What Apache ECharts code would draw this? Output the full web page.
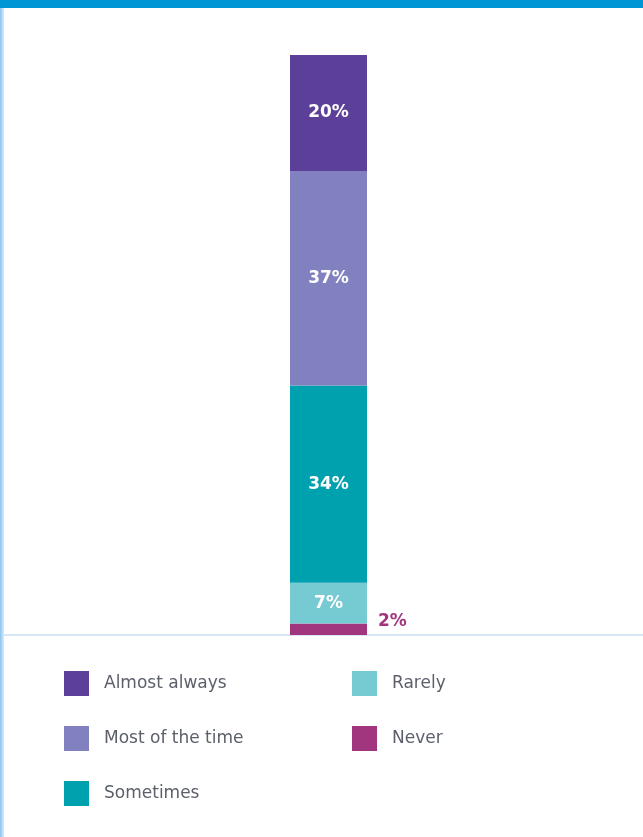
<!DOCTYPE html>
<html><head><meta charset="utf-8">
<script src="https://cdn.jsdelivr.net/npm/echarts@6/dist/echarts.min.js"></script>
<style>html,body{margin:0;padding:0;background:#fff}#c{width:643px;height:837px}</style>
</head><body><div id="c"></div>
<script>
const categories = ['All'];
const seriesNames = ['Never', 'Rarely', 'Sometimes', 'Most of the time', 'Almost always'];
const neverVals = [2];
const rarelyVals = [7];
const sometimesVals = [34];
const mostVals = [37];
const almostVals = [20];
const colors = {
  'Never': '#a2367e', 'Rarely': '#76cbd3', 'Sometimes': '#00a1ae',
  'Most of the time': '#8181bf', 'Almost always': '#5b3f99'
};
const valuesByName = {
  'Never': neverVals, 'Rarely': rarelyVals, 'Sometimes': sometimesVals,
  'Most of the time': mostVals, 'Almost always': almostVals
};
const FONT = '"DejaVu Sans", sans-serif';
const chart = echarts.init(document.getElementById('c'), null, {renderer: 'canvas'});
const series = seriesNames.map(n => {
  const outside = n === 'Never';
  return {
    name: n, type: 'bar', stack: 'total', data: valuesByName[n],
    barWidth: 77,
    itemStyle: {color: colors[n]},
    label: {
      show: true,
      position: outside ? 'right' : 'inside',
      offset: outside ? [6, -8] : [0, 0],
      formatter: '{c}%',
      color: outside ? colors[n] : '#ffffff',
      fontFamily: FONT, fontSize: 17, fontWeight: 'bold'
    }
  };
});
const legendText = {color: '#5b606b', fontFamily: FONT, fontSize: 17, padding: [0, 0, 0, 10]};
chart.setOption({
  animation: false,
  grid: {left: 290, right: 276, top: 55, bottom: 202},
  xAxis: {type: 'category', data: categories, show: false},
  yAxis: {type: 'value', min: 0, max: 100, show: false},
  legend: [
    {data: ['Almost always', 'Most of the time', 'Sometimes'], orient: 'vertical', left: 64, top: 671, padding: 0,
     icon: 'rect', itemWidth: 25, itemHeight: 25, itemGap: 30, textStyle: legendText, selectedMode: false},
    {data: ['Rarely', 'Never'], orient: 'vertical', left: 352, top: 671, padding: 0,
     icon: 'rect', itemWidth: 25, itemHeight: 25, itemGap: 30, textStyle: legendText, selectedMode: false}
  ],
  graphic: [
    {type: 'rect', left: 0, top: 0, shape: {width: 643, height: 8}, style: {fill: '#0096d6'}},
    {type: 'rect', left: 0, top: 8, shape: {width: 4, height: 829},
     style: {fill: new echarts.graphic.LinearGradient(0, 0, 1, 0, [{offset: 0, color: '#8cc4ee'}, {offset: 1, color: '#d8ecfa'}])}},
    {type: 'rect', left: 4, top: 634, shape: {width: 639, height: 2}, style: {fill: '#d7e5f4'}}
  ],
  series: series
});
</script></body></html>
